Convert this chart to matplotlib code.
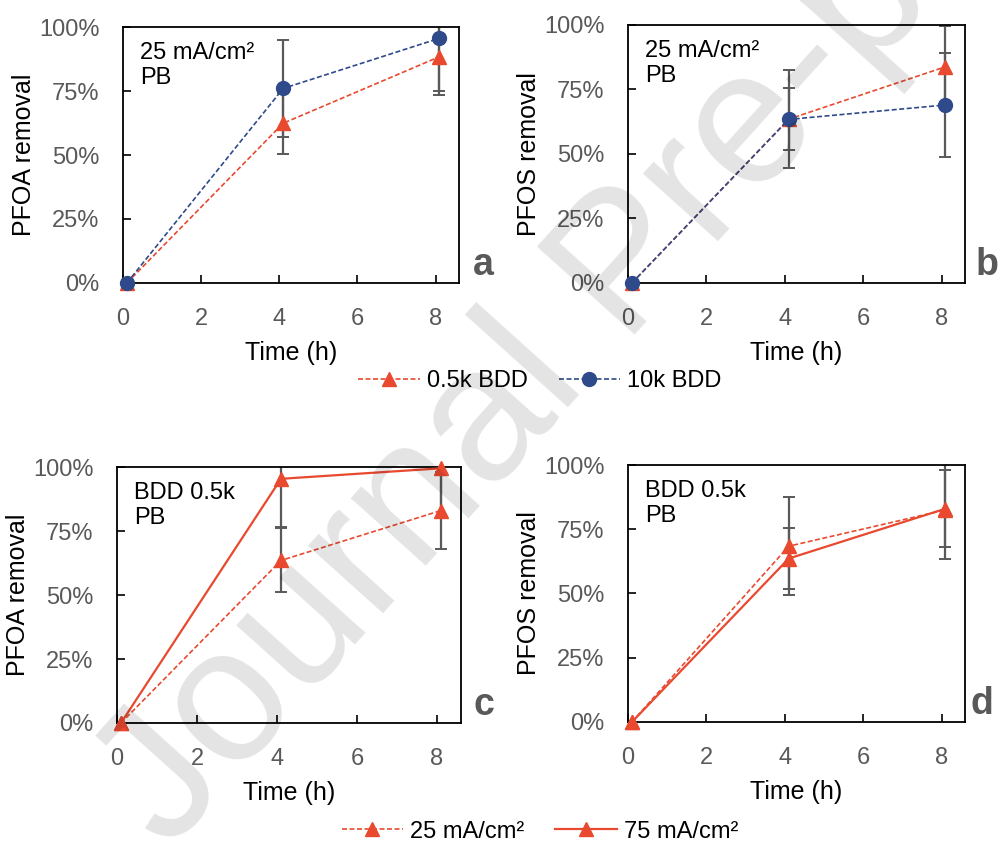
import matplotlib
matplotlib.use("Agg")
import matplotlib.pyplot as plt
from matplotlib.ticker import PercentFormatter

plt.rcParams['font.family'] = ['Liberation Sans', 'DejaVu Sans']

RED = '#E8492F'
BLUE = '#2F4A8A'
GREY = '#595959'

time_h = [0.1, 4.1, 8.1]

# panel a, PFOA, 25 mA/cm2
a_05k = [0.0, 0.624, 0.884]
a_05k_err = [0.0, 0.12, 0.135]
a_10k = [0.0, 0.76, 0.956]
a_10k_err = [0.0, 0.19, 0.22]

# panel b, PFOS, 25 mA/cm2
b_05k = [0.0, 0.635, 0.838]
b_05k_err = [0.0, 0.12, 0.16]
b_10k = [0.0, 0.634, 0.69]
b_10k_err = [0.0, 0.19, 0.20]

# panel c, PFOA, BDD 0.5k
c_25 = [0.0, 0.635, 0.83]
c_25_err = [0.0, 0.125, 0.15]
c_75 = [0.0, 0.954, 0.995]
c_75_err = [0.0, 0.19, 0.19]

# panel d, PFOS, BDD 0.5k
d_25 = [0.0, 0.684, 0.825]
d_25_err = [0.0, 0.19, 0.19]
d_75 = [0.0, 0.636, 0.83]
d_75_err = [0.0, 0.12, 0.15]

fig = plt.figure(figsize=(9.98, 8.47), dpi=100)

boxes = {
    'a': [0.1232, 0.6659, 0.3367, 0.3022],
    'b': [0.6293, 0.6659, 0.3377, 0.3046],
    'c': [0.1172, 0.1464, 0.3447, 0.3022],
    'd': [0.6293, 0.1476, 0.3377, 0.3034],
}


def setup(ax, ylabel, note, letter, letter_x):
    ax.set_xlim(0, 8.6)
    ax.set_ylim(0, 1.0)
    ax.set_xticks([0, 2, 4, 6, 8])
    ax.set_yticks([0, 0.25, 0.5, 0.75, 1.0])
    ax.yaxis.set_major_formatter(PercentFormatter(1.0, decimals=0))
    ax.tick_params(direction='in', length=6, width=1.2, labelsize=17,
                   labelcolor=GREY)
    ax.tick_params(axis='y', pad=17)
    ax.tick_params(axis='x', pad=18)
    for s in ax.spines.values():
        s.set_linewidth(1.3)
    ax.set_xlabel('Time (h)', fontsize=18, labelpad=8)
    ax.set_ylabel(ylabel, fontsize=18, labelpad=2)
    ax.text(0.05, 0.94, note, transform=ax.transAxes, fontsize=17,
            va='top', ha='left', linespacing=1.15)
    ax.text(letter_x, 0.0, letter, transform=ax.transAxes, fontsize=27,
            fontweight='bold', color=GREY, va='bottom', ha='left')


def series(ax, y, err, color, marker, ls, lw, label):
    ax.errorbar(time_h, y, yerr=err, fmt='none', ecolor=GREY, elinewidth=1.6,
                capsize=4, capthick=1.4, zorder=2)
    ln, = ax.plot(time_h, y, color=color, marker=marker, ls=ls, lw=lw,
                  markersize=10, label=label, zorder=3, clip_on=False,
                  dashes=(3, 1.5) if ls == '--' else (None, None))
    return ln


ax_a = fig.add_axes(boxes['a'])
h1 = series(ax_a, a_05k, a_05k_err, RED, '^', '--', 1.2, '0.5k BDD')
h2 = series(ax_a, a_10k, a_10k_err, BLUE, 'o', '--', 1.2, '10k BDD')
setup(ax_a, 'PFOA removal', '25 mA/cm²\nPB', 'a', 1.04)

ax_b = fig.add_axes(boxes['b'])
series(ax_b, b_05k, b_05k_err, RED, '^', '--', 1.2, '0.5k BDD')
series(ax_b, b_10k, b_10k_err, BLUE, 'o', '--', 1.2, '10k BDD')
setup(ax_b, 'PFOS removal', '25 mA/cm²\nPB', 'b', 1.03)

ax_c = fig.add_axes(boxes['c'])
h3 = series(ax_c, c_25, c_25_err, RED, '^', '--', 1.2, '25 mA/cm²')
h4 = series(ax_c, c_75, c_75_err, RED, '^', '-', 1.6, '75 mA/cm²')
setup(ax_c, 'PFOA removal', 'BDD 0.5k\nPB', 'c', 1.035)

ax_d = fig.add_axes(boxes['d'])
series(ax_d, d_25, d_25_err, RED, '^', '--', 1.2, '25 mA/cm²')
series(ax_d, d_75, d_75_err, RED, '^', '-', 1.6, '75 mA/cm²')
setup(ax_d, 'PFOS removal', 'BDD 0.5k\nPB', 'd', 1.015)

fig.legend(handles=[h1, h2], loc='center', bbox_to_anchor=(0.541, 0.55),
           ncol=2, frameon=False, fontsize=17, handlelength=2.6,
           handletextpad=0.3, columnspacing=1.3)
fig.legend(handles=[h3, h4], loc='center', bbox_to_anchor=(0.541, 0.018),
           ncol=2, frameon=False, fontsize=17, handlelength=2.6,
           handletextpad=0.3, columnspacing=1.3)

# watermark
fig.text(0.628, 0.682, 'Journal Pre-proof', fontsize=138, rotation=48,
         ha='center', va='center', color='black', alpha=0.11, zorder=10)

fig.savefig('out.png', dpi=100)
